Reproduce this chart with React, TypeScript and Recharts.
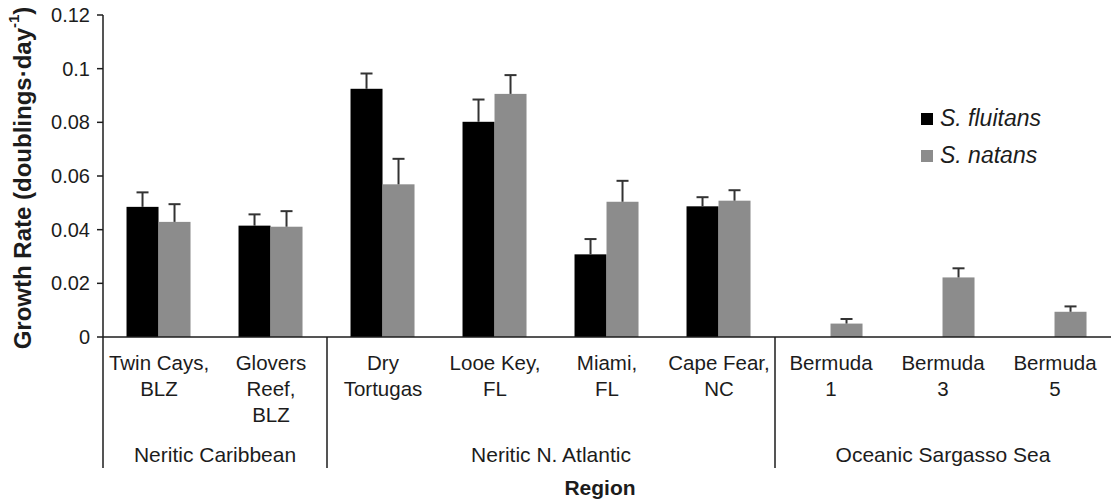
import { Bar, BarChart, Legend, XAxis, YAxis } from 'recharts'

const sites = [
  'Twin Cays, BLZ',
  'Glovers Reef, BLZ',
  'Dry Tortugas',
  'Looe Key, FL',
  'Miami, FL',
  'Cape Fear, NC',
  'Bermuda 1',
  'Bermuda 3',
  'Bermuda 5',
]

// how each site label is broken over lines under the axis
const siteLines = [
  ['Twin Cays,', 'BLZ'],
  ['Glovers', 'Reef,', 'BLZ'],
  ['Dry', 'Tortugas'],
  ['Looe Key,', 'FL'],
  ['Miami,', 'FL'],
  ['Cape Fear,', 'NC'],
  ['Bermuda', '1'],
  ['Bermuda', '3'],
  ['Bermuda', '5'],
]

const fluitans = [0.0485, 0.0415, 0.0925, 0.0802, 0.0308, 0.0487, 0, 0, 0]
const fluitansErr = [0.0054, 0.0042, 0.0057, 0.0083, 0.0057, 0.0034, 0, 0, 0]
const natans = [0.0429, 0.0411, 0.0569, 0.0906, 0.0504, 0.0508, 0.005, 0.0222, 0.0094]
const natansErr = [0.0066, 0.0058, 0.0095, 0.007, 0.0078, 0.0039, 0.0017, 0.0034, 0.002]

const groupNames = ['Neritic Caribbean', 'Neritic N. Atlantic', 'Oceanic Sargasso Sea']
const groupSizes = [2, 4, 3]

const yTicks = [0, 0.02, 0.04, 0.06, 0.08, 0.1, 0.12]

const FONT = '"Liberation Sans", Arial, Helvetica, sans-serif'
const INK = '#1c1c1c'

const chartData = sites.map((site, i) => ({
  site,
  fluitans: fluitans[i],
  fluitansErr: fluitansErr[i],
  natans: natans[i],
  natansErr: natansErr[i],
}))

// index of first site in each group
const groupStarts = groupSizes.map((_, g) =>
  groupSizes.slice(0, g).reduce((a, b) => a + b, 0)
)

function barWithError(errKey: 'fluitansErr' | 'natansErr') {
  return (props: any) => {
    const { x, y, width, height, fill, payload, value } = props
    const v = Array.isArray(value) ? value[1] - value[0] : value
    const err = payload[errKey]
    // pixels per unit taken from the bar itself
    const errPx = v > 0 && height > 0 ? (err * height) / v : 0
    const cx = x + width / 2
    return (
      <g>
        <rect x={x} y={y} width={width} height={height} fill={fill} />
        {errPx > 0 && (
          <g stroke='#333' strokeWidth={2}>
            <line x1={cx} x2={cx} y1={y} y2={y - errPx} />
            <line x1={cx - 6} x2={cx + 6} y1={y - errPx} y2={y - errPx} />
          </g>
        )}
      </g>
    )
  }
}

function SiteTick(props: any) {
  const { x, y, payload, width, visibleTicksCount } = props
  const i = payload.index
  const band = width / visibleTicksCount
  const g = groupStarts.indexOf(i)
  const left = x - band / 2
  return (
    <g fontFamily={FONT} fill={INK}>
      {siteLines[i].map((line, k) => (
        <text key={k} x={x} y={y + 33 + k * 26} textAnchor='middle' fontSize={20.5}>
          {line}
        </text>
      ))}
      {g >= 0 && (
        <g>
          <line x1={left} x2={left} y1={y} y2={y + 131} stroke={INK} strokeWidth={1.5} />
          <text
            x={left + (band * groupSizes[g]) / 2}
            y={y + 125}
            textAnchor='middle'
            fontSize={21}
          >
            {groupNames[g]}
          </text>
        </g>
      )}
    </g>
  )
}

function YLabel(props: any) {
  const vb = props.viewBox || {}
  const cx = 22
  const cy = vb.height ? vb.y + vb.height / 2 + 2 : 178
  return (
    <text
      x={cx}
      y={cy}
      transform={`rotate(-90, ${cx}, ${cy})`}
      textAnchor='middle'
      dominantBaseline='central'
      fontFamily={FONT}
      fontWeight='bold'
      fontSize={24}
      fill={INK}
    >
      Growth Rate (doublings·day
      <tspan dy={-9} fontSize={15}>
        -1
      </tspan>
      <tspan dy={9}>)</tspan>
    </text>
  )
}

function LegendBox({ payload }: any) {
  return (
    <div style={{ fontFamily: FONT }}>
      {(payload || []).map((item: any) => (
        <div
          key={item.value}
          style={{ display: 'flex', alignItems: 'center', height: 37 }}
        >
          <span
            style={{ width: 12, height: 12, background: item.color, display: 'inline-block' }}
          />
          <span style={{ marginLeft: 7, fontSize: 23, fontStyle: 'italic', color: INK }}>
            {item.value}
          </span>
        </div>
      ))}
    </div>
  )
}

export default function App() {
  return (
    <div style={{ position: 'absolute', left: 0, top: 0, background: '#fff' }}>
      <BarChart
        width={1112}
        height={502}
        data={chartData}
        margin={{ top: 15, right: 1, bottom: 0, left: 0 }}
        barCategoryGap='21%'
        barGap={0}
      >
        <XAxis
          dataKey='site'
          height={165}
          interval={0}
          tickLine={false}
          tickSize={0}
          tickMargin={0}
          stroke={INK}
          strokeWidth={1.5}
          tick={<SiteTick />}
          label={{
            value: 'Region',
            position: 'insideBottom',
            offset: 7,
            dx: -7,
            fontFamily: FONT,
            fontWeight: 'bold',
            fontSize: 21,
            fill: INK,
          }}
        />
        <YAxis
          width={103}
          domain={[0, 0.12]}
          ticks={yTicks}
          interval={0}
          tickSize={6}
          tickMargin={7}
          stroke={INK}
          strokeWidth={1.5}
          tick={{ fontFamily: FONT, fontSize: 20, fill: INK }}
          tickFormatter={(v) => `${v}`}
          label={<YLabel />}
        />
        <Legend
          layout='vertical'
          align='center'
          verticalAlign='middle'
          wrapperStyle={{ left: 921, top: 100, width: 190 }}
          content={<LegendBox />}
        />
        <Bar
          dataKey='fluitans'
          name='S. fluitans'
          fill='#000000'
          shape={barWithError('fluitansErr')}
          isAnimationActive={false}
        />
        <Bar
          dataKey='natans'
          name='S. natans'
          fill='#8c8c8c'
          shape={barWithError('natansErr')}
          isAnimationActive={false}
        />
      </BarChart>
    </div>
  )
}
